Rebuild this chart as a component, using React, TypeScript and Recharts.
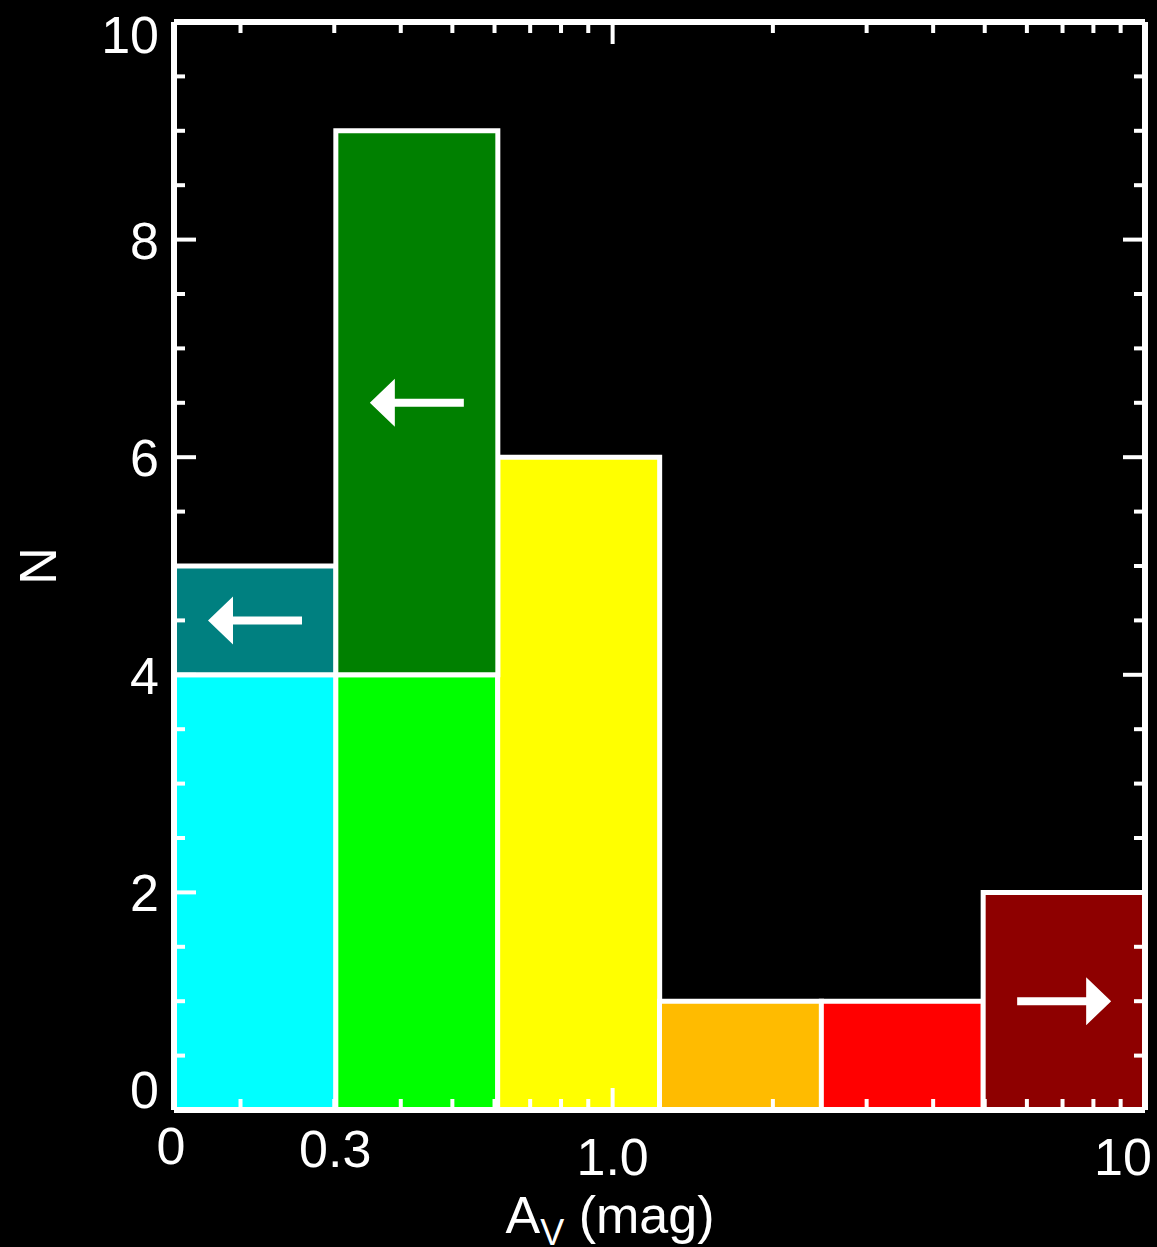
import React from 'react';
import { BarChart, Bar, XAxis, YAxis, Cell, LabelList } from 'recharts';

// A_V bins (log-spaced, factor ~2)
const bins = ['0.15-0.3', '0.3-0.6', '0.6-1.2', '1.2-2.4', '2.4-4.8', '4.8-10'];
const binLowEdges = [0.15, 0.3, 0.6, 1.2, 2.4, 4.8];
const detected = [4, 4, 6, 1, 1, 0];
const upperLimits = [1, 5, 0, 0, 0, 0];
const lowerLimits = [0, 0, 0, 0, 0, 2];

const detectedColors = ['#00ffff', '#00ff00', '#ffff00', '#ffbb00', '#ff0000', '#8e0000'];
const upperColors = ['#008080', '#008000', '#ffff00', '#ffbb00', '#ff0000', '#8e0000'];
const lowerColors = ['#00ffff', '#00ff00', '#ffff00', '#ffbb00', '#ff0000', '#8e0000'];

const xDomain = [0.15, 10];
const xAllTicks = [0.15, 0.2, 0.3, 0.4, 0.5, 0.6, 0.7, 0.8, 0.9, 1, 2, 3, 4, 5, 6, 7, 8, 9, 10];
const xMajorTicks = [1, 10];
const xTickValues = [0.15, 0.3, 1, 10];
const xTickLabels = ['0', '0.3', '1.0', '10'];

const yAllTicks = [0, 0.5, 1, 1.5, 2, 2.5, 3, 3.5, 4, 4.5, 5, 5.5, 6, 6.5, 7, 7.5, 8, 8.5, 9, 9.5, 10];
const yTickValues = [0, 2, 4, 6, 8, 10];

const data = bins.map((bin, i) => ({
  bin,
  lo: binLowEdges[i],
  detected: detected[i],
  upper: upperLimits[i],
  lower: lowerLimits[i],
}));

const FONT = '"Liberation Sans", Arial, sans-serif';
const WHITE = '#ffffff';
const MINOR = 11;
const MAJOR = 22;

const xLabelShift: Record<string, [number, number]> = {
  '0': [-3, 54],
  '0.3': [1, 57],
  '1.0': [0, 65],
  '10': [-22, 65],
};

// bottom axis: inward tick + label
const XTick = (props: any) => {
  const { x, y, payload } = props;
  const v = payload.value;
  const len = xMajorTicks.includes(v) ? MAJOR : MINOR;
  const idx = xTickValues.indexOf(v);
  const label = idx >= 0 ? xTickLabels[idx] : null;
  const [dx, dy] = label ? xLabelShift[label] : [0, 0];
  return (
    <g>
      {v !== xDomain[0] && <line x1={x} x2={x} y1={y} y2={y - len} stroke={WHITE} strokeWidth={4} />}
      {label && (
        <text x={x + dx} y={y + dy} textAnchor="middle" fill={WHITE} fontSize={52} fontFamily={FONT}>
          {label}
        </text>
      )}
    </g>
  );
};

// top axis: inward tick only
const XTopTick = (props: any) => {
  const { x, y, payload } = props;
  const v = payload.value;
  if (v === xDomain[0]) return <g />;
  const len = xMajorTicks.includes(v) ? MAJOR : MINOR;
  return <line x1={x} x2={x} y1={y} y2={y + len} stroke={WHITE} strokeWidth={4} />;
};

const YTick = (props: any) => {
  const { x, y, payload } = props;
  const v = payload.value;
  const major = yTickValues.includes(v);
  const len = major ? MAJOR : MINOR;
  const dy = v === 10 ? 31 : v === 0 ? -2 : 19;
  return (
    <g>
      {v !== 0 && v !== 10 && <line x1={x} x2={x + len} y1={y} y2={y} stroke={WHITE} strokeWidth={4} />}
      {major && (
        <text x={x - 15} y={y + dy} textAnchor="end" fill={WHITE} fontSize={52} fontFamily={FONT}>
          {v}
        </text>
      )}
    </g>
  );
};

const YRightTick = (props: any) => {
  const { x, y, payload } = props;
  const v = payload.value;
  if (v === 0 || v === 10) return <g />;
  const len = yTickValues.includes(v) ? MAJOR : MINOR;
  return <line x1={x} x2={x - len} y1={y} y2={y} stroke={WHITE} strokeWidth={4} />;
};

const XTitle = (props: any) => {
  const vb = props.viewBox || { x: 174, y: 1110 };
  return (
    <text x={vb.x + 436} y={vb.y + 123} textAnchor="middle" fill={WHITE} fontSize={52} fontFamily={FONT}>
      A
      <tspan fontSize={36} dy={12}>V</tspan>
      <tspan dy={-12}> (mag)</tspan>
    </text>
  );
};

const YTitle = (props: any) => {
  const vb = props.viewBox || { x: 54, y: 22, height: 1088 };
  const cx = vb.x + 2;
  const cy = vb.y + vb.height / 2;
  return (
    <text
      x={0}
      y={0}
      transform={`translate(${cx},${cy}) rotate(-90)`}
      textAnchor="middle"
      fill={WHITE}
      fontSize={52}
      fontFamily={FONT}
    >
      N
    </text>
  );
};

// limit arrows drawn in the middle of a bar segment
const arrow = (dir: 'left' | 'right') => (props: any) => {
  const { x, y, width, height, value } = props;
  if (!value) return null;
  const cx = Number(x) + Number(width) / 2;
  const cy = Number(y) + Number(height) / 2;
  const half = 47;
  const head = 25;
  const hh = 24;
  const t = 4;
  const s = dir === 'left' ? -1 : 1;
  const tip = cx + s * half;
  const base = tip - s * head;
  const tail = cx - s * half;
  const pts = [
    [tail, cy - t],
    [base, cy - t],
    [base, cy - hh],
    [tip, cy],
    [base, cy + hh],
    [base, cy + t],
    [tail, cy + t],
  ]
    .map((p) => p.join(','))
    .join(' ');
  return <polygon points={pts} fill={WHITE} />;
};

const frame = { stroke: WHITE, strokeWidth: 6 };

export default function App() {
  return (
    <div style={{ position: 'absolute', left: 0, top: 0, width: 1157, height: 1247, background: '#000' }}>
      <BarChart
        width={1157}
        height={1247}
        data={data}
        margin={{ top: 22, right: 12, bottom: 37, left: 54 }}
        barCategoryGap={0}
        barGap={0}
      >
        <XAxis xAxisId="bins" dataKey="bin" hide height={0} />
        <Bar xAxisId="bins" yAxisId="n" dataKey="detected" stackId="a" stroke={WHITE} strokeWidth={5} isAnimationActive={false}>
          {data.map((d, i) => (
            <Cell key={d.bin} fill={detectedColors[i]} />
          ))}
        </Bar>
        <Bar xAxisId="bins" yAxisId="n" dataKey="upper" stackId="a" stroke={WHITE} strokeWidth={5} isAnimationActive={false}>
          {data.map((d, i) => (
            <Cell key={d.bin} fill={upperColors[i]} />
          ))}
          <LabelList dataKey="upper" content={arrow('left')} />
        </Bar>
        <Bar xAxisId="bins" yAxisId="n" dataKey="lower" stackId="a" stroke={WHITE} strokeWidth={5} isAnimationActive={false}>
          {data.map((d, i) => (
            <Cell key={d.bin} fill={lowerColors[i]} />
          ))}
          <LabelList dataKey="lower" content={arrow('right')} />
        </Bar>

        <YAxis
          yAxisId="n"
          type="number"
          domain={[0, 10]}
          allowDataOverflow
          ticks={yAllTicks}
          interval={0}
          width={120}
          tickSize={0}
          tickMargin={0}
          tickLine={false}
          axisLine={frame}
          tick={YTick}
          label={YTitle}
        />
        <YAxis
          yAxisId="r"
          orientation="right"
          mirror
          type="number"
          domain={[0, 10]}
          allowDataOverflow
          ticks={yAllTicks}
          interval={0}
          width={10}
          tickSize={0}
          tickMargin={0}
          tickLine={false}
          axisLine={frame}
          tick={YRightTick}
        />
        <XAxis
          xAxisId="xb"
          dataKey="lo"
          type="number"
          scale="log"
          domain={xDomain}
          allowDataOverflow
          ticks={xAllTicks}
          interval={0}
          height={100}
          tickSize={0}
          tickMargin={0}
          tickLine={false}
          axisLine={frame}
          tick={XTick}
          label={XTitle}
        />
        <XAxis
          xAxisId="xt"
          dataKey="lo"
          orientation="top"
          mirror
          type="number"
          scale="log"
          domain={xDomain}
          allowDataOverflow
          ticks={xAllTicks}
          interval={0}
          height={10}
          tickSize={0}
          tickMargin={0}
          tickLine={false}
          axisLine={frame}
          tick={XTopTick}
        />
      </BarChart>
    </div>
  );
}
